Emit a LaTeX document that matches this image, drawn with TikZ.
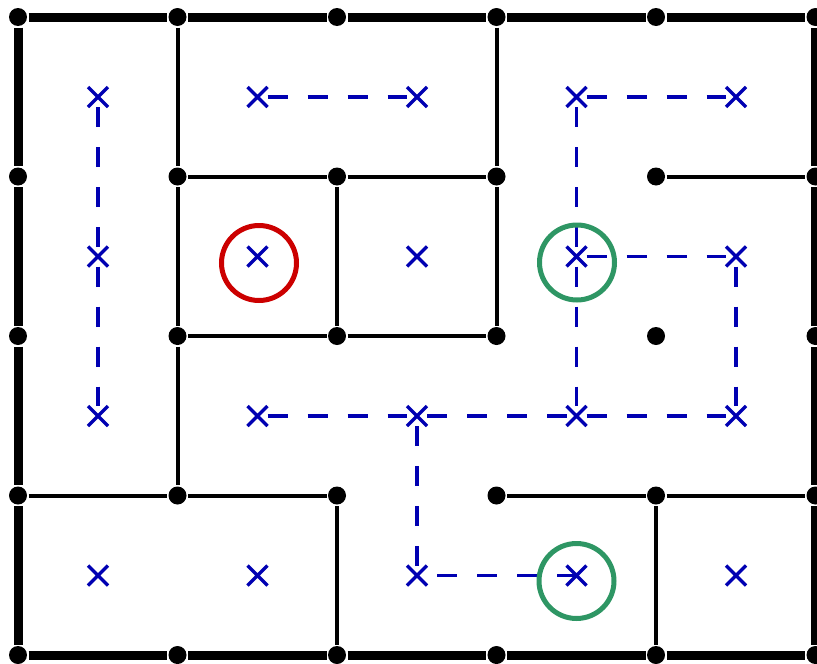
\documentclass[tikz,border=0pt]{standalone}
\usetikzlibrary{shapes.misc}
\definecolor{xblue}{RGB}{0,0,178}
\definecolor{cred}{RGB}{204,0,0}
\definecolor{cgreen}{RGB}{46,150,100}
\begin{document}
\begin{tikzpicture}[x=1pt,y=-1pt,
  dot/.style={circle,fill=black,minimum size=18pt,inner sep=0pt,outer sep=1.5pt},
  border/.style={line width=9pt},
  wall/.style={line width=4pt},
  xmark/.style={cross out,draw=xblue,line width=3.5pt,minimum size=20pt,inner sep=0pt,outer sep=0pt},
  route/.style={draw=xblue,line width=3.5pt,dash pattern=on 20pt off 20pt},
  ring/.style={circle,draw,line width=5pt,minimum size=75pt,inner sep=0pt}]
\useasboundingbox (0,0) rectangle (817,664);
% grid dots
\foreach \i in {0,...,5} \foreach \j in {0,...,4}
  \node[dot] (d\i\j) at ({18+159.5*\i},{17+159.5*\j}) {};
% outer border
\foreach \i in {0,...,4} {
  \pgfmathtruncatemacro{\k}{\i+1}
  \draw[border] (d\i0) -- (d\k0);
  \draw[border] (d\i4) -- (d\k4);
}
\foreach \j in {0,...,3} {
  \pgfmathtruncatemacro{\k}{\j+1}
  \draw[border] (d0\j) -- (d0\k);
  \draw[border] (d5\j) -- (d5\k);
}
% interior walls
\draw[wall] (d10) -- (d11);
\draw[wall] (d11) -- (d12);
\draw[wall] (d12) -- (d13);
\draw[wall] (d11) -- (d21);
\draw[wall] (d21) -- (d31);
\draw[wall] (d21) -- (d22);
\draw[wall] (d30) -- (d31);
\draw[wall] (d31) -- (d32);
\draw[wall] (d12) -- (d22);
\draw[wall] (d22) -- (d32);
\draw[wall] (d41) -- (d51);
\draw[wall] (d03) -- (d13);
\draw[wall] (d13) -- (d23);
\draw[wall] (d23) -- (d24);
\draw[wall] (d33) -- (d43);
\draw[wall] (d43) -- (d53);
\draw[wall] (d43) -- (d44);
% cell marks
\foreach \i in {0,...,4} \foreach \j in {0,...,3}
  \node[xmark] (c\i\j) at ({98+159.5*\i},{97+159.5*\j}) {};
% dashed routes
\draw[route] (c00) -- (c01);
\draw[route] (c01) -- (c02);
\draw[route] (c10) -- (c20);
\draw[route] (c30) -- (c40);
\draw[route] (c30) -- (c31);
\draw[route] (c31) -- (c32);
\draw[route] (c31) -- (c41);
\draw[route] (c41) -- (c42);
\draw[route] (c12) -- (c22);
\draw[route] (c22) -- (c32);
\draw[route] (c32) -- (c42);
\draw[route] (c22) -- (c23);
\draw[route] (c33.center) -- (c23);
% circles
\node[ring,draw=cred] (r1) at ([shift={(1.5,6.5)}]c11) {};
\node[ring,draw=cgreen] (g1) at ([shift={(0.5,6)}]c31) {};
\node[ring,draw=cgreen] (g2) at ([shift={(0,5.5)}]c33) {};
\end{tikzpicture}
\end{document}
